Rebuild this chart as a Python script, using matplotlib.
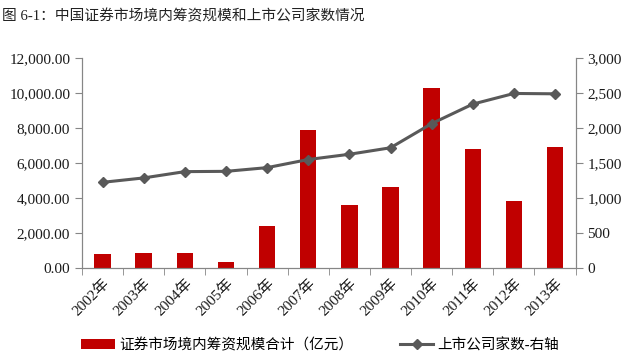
import numpy as np
import matplotlib.pyplot as plt
from matplotlib.ticker import FuncFormatter

# 数据
years = ['2002年', '2003年', '2004年', '2005年', '2006年', '2007年',
         '2008年', '2009年', '2010年', '2011年', '2012年', '2013年']
financing = [780, 840, 876, 325, 2400, 7900, 3580, 4610, 10270, 6780, 3810, 6900]
companies = [1224, 1287, 1377, 1381, 1434, 1550, 1625, 1718, 2063, 2342, 2494, 2489]

plt.rcParams['font.family'] = ['Liberation Serif', 'Noto Sans CJK SC']
plt.rcParams['axes.unicode_minus'] = False

fig = plt.figure(figsize=(6.28, 3.54), dpi=100)
ax = fig.add_axes([0.1306, 0.243, 0.786, 0.593])
ax2 = ax.twinx()

x = np.arange(len(years))
bars = ax.bar(x, financing, width=0.4, color='#C00000', zorder=2,
              label='证券市场境内筹资规模合计（亿元）')
line, = ax2.plot(x, companies, color='#595959', lw=2.2, marker='D', ms=5.5,
                 label='上市公司家数-右轴', zorder=3)

ax.set_xlim(-0.5, len(years) - 0.5)
ax.set_ylim(0, 12000)
ax2.set_ylim(0, 3000)
ax.set_yticks(np.arange(0, 12001, 2000))
ax2.set_yticks(np.arange(0, 3001, 500))
ax.yaxis.set_major_formatter(FuncFormatter(lambda v, p: f'{v:,.2f}'))
ax2.yaxis.set_major_formatter(FuncFormatter(lambda v, p: f'{v:,.0f}'))

ax.set_xticks(x)
ax.set_xticklabels(years, rotation=45, ha='right', rotation_mode='anchor')
ax.set_xticks(np.arange(-0.5, len(years), 1), minor=True)
ax.tick_params(axis='x', which='major', length=0, pad=6)
ax.tick_params(axis='x', which='minor', length=5, color='#868686')

spine_c = '#868686'
for a in (ax, ax2):
    a.spines['top'].set_visible(False)
    for s in ('left', 'right', 'bottom'):
        a.spines[s].set_color(spine_c)
    a.tick_params(axis='y', length=5, color=spine_c, labelsize=11, labelcolor='#1a1a1a')
ax.tick_params(axis='x', labelsize=11, labelcolor='#1a1a1a')

fig.text(0.003, 0.955, '图 6-1：中国证券市场境内筹资规模和上市公司家数情况',
         fontsize=10.6, color='#222222', va='center', ha='left')

fig.legend(handles=[bars, line], loc='center', bbox_to_anchor=(0.51, 0.025),
           ncol=2, frameon=False, fontsize=10.5, columnspacing=3.2,
           handlelength=2.3, handletextpad=0.3)

fig.savefig('out.png', dpi=100)
